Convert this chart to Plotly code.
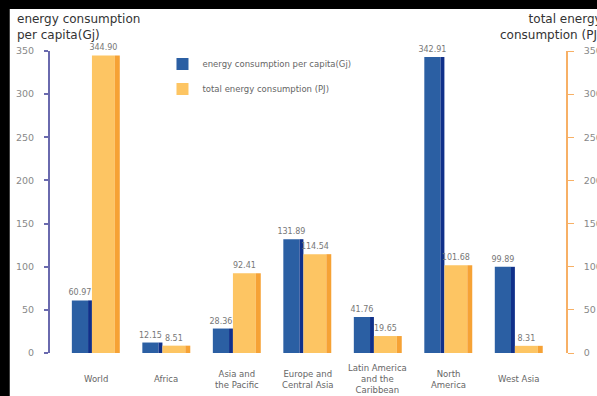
import plotly.graph_objects as go

categories = ["World", "Africa", "Asia and the Pacific", "Europe and Central Asia",
              "Latin America and the Caribbean", "North America", "West Asia"]
category_labels = ["World", "Africa", "Asia and<br>the Pacific", "Europe and<br>Central Asia",
                   "Latin America<br>and the<br>Caribbean", "North<br>America", "West Asia"]
per_capita = [60.97, 12.15, 28.36, 131.89, 41.76, 342.91, 99.89]
total_energy = [344.90, 8.51, 92.41, 114.54, 19.65, 101.68, 8.31]
y_ticks = [0, 50, 100, 150, 200, 250, 300, 350]

FONT = "DejaVu Sans"
BLUE = "#2b5fa3"
BLUE_SIDE = "#10308a"
ORANGE = "#fdc563"
ORANGE_SIDE = "#f6a235"

fig = go.Figure()

fig.add_trace(go.Bar(
    x=categories, y=per_capita, name="energy consumption per capita(Gj)",
    marker=dict(color=BLUE, line=dict(width=0)), offset=-0.34, width=0.23,
    text=[f"{v:.2f}" for v in per_capita], textposition="outside", constraintext="none",
    textfont=dict(family=FONT, size=8, color="#777777"), cliponaxis=False,
    legendgroup="a", yaxis="y"))
fig.add_trace(go.Bar(
    x=categories, y=per_capita, showlegend=False, hoverinfo="skip",
    marker=dict(color=BLUE_SIDE, line=dict(width=0)), offset=-0.11, width=0.055,
    legendgroup="a", yaxis="y"))
fig.add_trace(go.Bar(
    x=categories, y=total_energy, name="total energy consumption (PJ)",
    marker=dict(color=ORANGE, line=dict(width=0)), offset=-0.055, width=0.325,
    text=[f"{v:.2f}" for v in total_energy], textposition="outside", constraintext="none",
    textfont=dict(family=FONT, size=8, color="#777777"), cliponaxis=False,
    legendgroup="b", yaxis="y2"))
fig.add_trace(go.Bar(
    x=categories, y=total_energy, showlegend=False, hoverinfo="skip",
    marker=dict(color=ORANGE_SIDE, line=dict(width=0)), offset=0.27, width=0.07,
    legendgroup="b", yaxis="y2"))

annotations = []
for cat, lab in zip(categories, category_labels):
    annotations.append(dict(x=cat, xref="x", y=-0.087, yref="paper", text=lab,
                            showarrow=False, xanchor="center", yanchor="middle",
                            font=dict(family=FONT, size=8.5, color="#666666")))
annotations.append(dict(x=-0.068, xref="paper", y=1.135, yref="paper",
                        text="energy consumption<br>per capita(Gj)", showarrow=False,
                        xanchor="left", yanchor="top", align="left",
                        font=dict(family=FONT, size=12, color="#333333")))
annotations.append(dict(x=1.074, xref="paper", y=1.135, yref="paper",
                        text="total energy<br>consumption (PJ)", showarrow=False,
                        xanchor="right", yanchor="top", align="right",
                        font=dict(family=FONT, size=12, color="#333333")))

fig.update_layout(
    width=597, height=396,
    margin=dict(l=50, r=31, t=51, b=43, autoexpand=False),
    paper_bgcolor="black", plot_bgcolor="rgba(0,0,0,0)",
    barmode="overlay",
    font=dict(family=FONT),
    shapes=[dict(type="rect", xref="paper", yref="paper", x0=-0.078, x1=1.2,
                 y0=-0.2, y1=1.139, fillcolor="white", line=dict(width=0), layer="below")],
    xaxis=dict(type="category", range=[-0.65, 6.67], showticklabels=False, automargin=False,
               showgrid=False, zeroline=False, showline=False, ticks=""),
    yaxis=dict(range=[0, 350], tickvals=y_ticks, showgrid=False, zeroline=False, automargin=False,
               showline=True, linecolor="#6a6aae", linewidth=2,
               ticks="outside", ticklen=4, tickcolor="#6a6aae", tickwidth=2,
               ticklabelstandoff=8,
               tickfont=dict(family=FONT, size=9.5, color="#888888")),
    yaxis2=dict(range=[0, 350], tickvals=y_ticks, overlaying="y", side="right", automargin=False,
                showgrid=False, zeroline=False, showline=True, linecolor="#f7b066",
                linewidth=1.5, ticks="outside", ticklen=6, tickcolor="#f7b066",
                ticklabelstandoff=8,
                tickfont=dict(family=FONT, size=9.5, color="#888888")),
    yaxis3=dict(range=[0, 350], tickvals=y_ticks[1:], overlaying="y", showgrid=True, automargin=False,
                gridcolor="#cfcfcf", gridwidth=1, showticklabels=False, zeroline=False,
                showline=False, ticks=""),
    legend=dict(x=0.218, y=1.005, xanchor="left", yanchor="top", bgcolor="white",
                borderwidth=0, traceorder="grouped", tracegroupgap=6,
                font=dict(family=FONT, size=8.5, color="#666666")),
    annotations=annotations,
)

fig.write_html("out.html")
